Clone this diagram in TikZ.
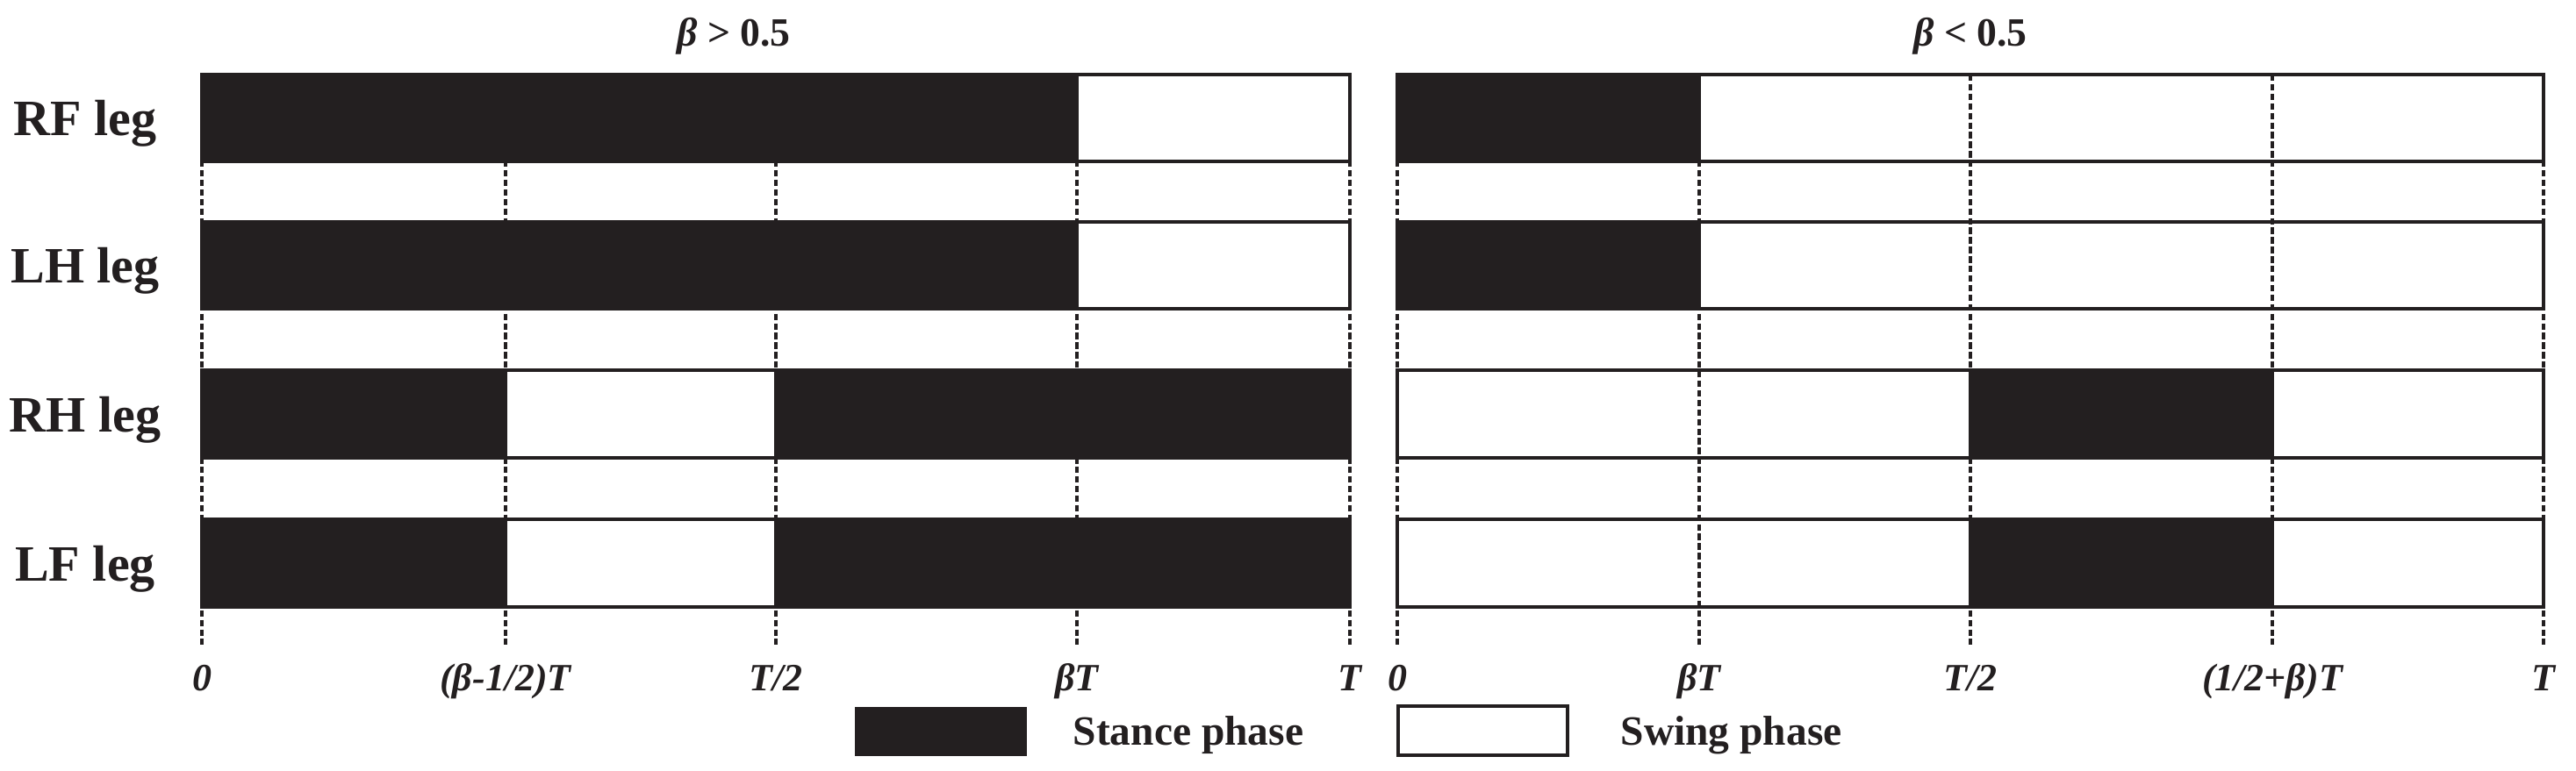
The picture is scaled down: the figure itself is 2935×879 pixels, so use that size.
\documentclass[tikz,border=0pt]{standalone}
\usepackage{fontspec}
\setmainfont{Liberation Serif}
\definecolor{ink}{HTML}{231F20}
\begin{document}
\begin{tikzpicture}[x=0.01cm,y=-0.01cm]
\tikzset{
 lbl/.style={font=\fontsize{16.5}{18}\selectfont\bfseries, anchor=base, inner sep=0pt, text=ink},
 ttl/.style={font=\fontsize{13}{15}\selectfont\bfseries, anchor=base, inner sep=0pt, text=ink},
 tick/.style={font=\fontsize{12.5}{15}\selectfont\bfseries\itshape, anchor=base, inner sep=0pt, text=ink},
 leg/.style={font=\fontsize{13.5}{16}\selectfont\bfseries, anchor=base west, inner sep=0pt, text=ink},
 guide/.style={draw=ink, line width=0.04cm, dash pattern=on 0.073cm off 0.036cm},
 frame/.style={draw=ink, line width=0.045cm},
 stance/.style={fill=ink, draw=ink, line width=0.045cm},
}
\useasboundingbox (0,0) rectangle (2935,879);
% panel tick positions
\def\La{230}\def\Lb{576}\def\Lc{884}\def\Ld{1227}\def\Le{1538}
\def\Ra{1592}\def\Rb{1936}\def\Rc{2245}\def\Rd{2589}\def\Re{2898}
% white row boxes
\foreach \t in {85,253,422,592}{
  \fill[white] (\La,\t) rectangle (\Le,\t+100);
  \fill[white] (\Ra,\t) rectangle (\Re,\t+100);
}
% dashed guide lines
\foreach \x in {\La,\Lb,\Lc,\Ld,\Le,\Ra,\Rb,\Rc,\Rd,\Re}{
  \draw[guide] (\x,85) -- (\x,735);
}
% stance phases, beta > 0.5
\path[stance] (\La,85) rectangle (\Ld,184);
\path[stance] (\La,253) rectangle (\Ld,352);
\path[stance] (\La,422) rectangle (\Lb,522);
\path[stance] (\Lc,422) rectangle (\Le,522);
\path[stance] (\La,592) rectangle (\Lb,692);
\path[stance] (\Lc,592) rectangle (\Le,692);
% stance phases, beta < 0.5
\path[stance] (\Ra,85) rectangle (\Rb,184);
\path[stance] (\Ra,253) rectangle (\Rb,352);
\path[stance] (\Rc,422) rectangle (\Rd,522);
\path[stance] (\Rc,592) rectangle (\Rd,692);
% frames
\foreach \t/\b in {85/184,253/352,422/522,592/692}{
  \draw[frame] (\La,\t) rectangle (\Le,\b);
  \draw[frame] (\Ra,\t) rectangle (\Re,\b);
}
% titles
\node[ttl] (t1) at (836,53) {\textit{β} > 0.5};
\node[ttl] (t2) at (2245,53) {\textit{β} < 0.5};
% row labels
\node[lbl] (rf) at (97,155) {RF leg};
\node[lbl] (lh) at (97,323) {LH leg};
\node[lbl] (rh) at (97,492) {RH leg};
\node[lbl] (lf) at (97,662) {LF leg};
% tick labels
\node[tick] (a0) at (\La,787) {0};
\node[tick] (a1) at (\Lb,787) {(β-1/2)T};
\node[tick] (a2) at (\Lc,787) {T/2};
\node[tick] (a3) at (\Ld,787) {βT};
\node[tick] (a4) at (\Le,787) {T};
\node[tick] (b0) at (\Ra,787) {0};
\node[tick] (b1) at (\Rb,787) {βT};
\node[tick] (b2) at (\Rc,787) {T/2};
\node[tick] (b3) at (\Rd,787) {(1/2+β)T};
\node[tick] (b4) at (\Re,787) {T};
% legend
\fill[ink] (974,806) rectangle (1170,862);
\node[leg] (st) at (1222,849) {Stance phase};
\draw[frame, fill=white] (1593,805) rectangle (1786,861);
\node[leg] (sw) at (1846,849) {Swing phase};
\end{tikzpicture}
\end{document}
